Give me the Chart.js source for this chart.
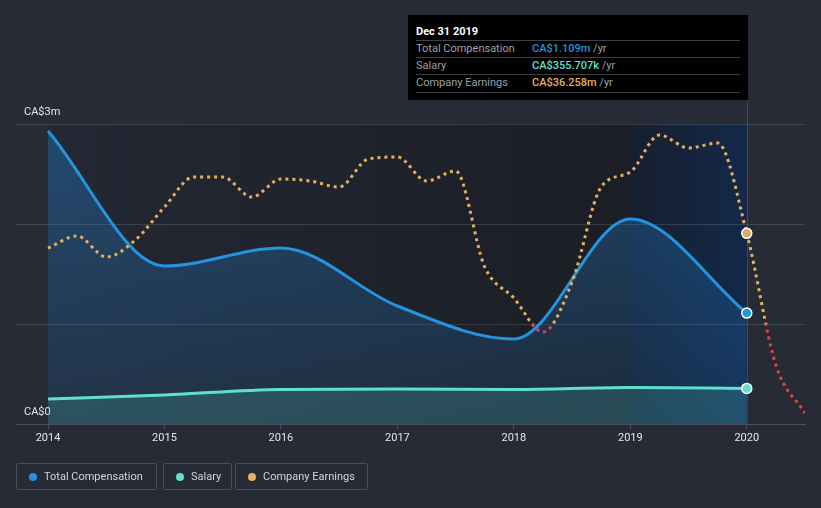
<!DOCTYPE html>
<html>
<head>
<meta charset="utf-8">
<script src="https://cdn.jsdelivr.net/npm/chart.js@4"></script>
<style>
  html, body { margin: 0; padding: 0; background: #262b36; }
  body { width: 821px; height: 508px; position: relative; overflow: hidden; font-family: Roboto, "Noto Sans", sans-serif; }
  #wrap { position: absolute; left: 0; top: 0; width: 821px; height: 508px; }
  .tip { position: absolute; left: 408px; top: 15px; width: 340px; height: 85px; background: #000; color: #fff; font-size: 11px; }
  .tip .ttl { position: absolute; left: 8px; top: 10px; font-weight: bold; }
  .tip .row { position: absolute; left: 8px; width: 324px; height: 17px; border-top: 1px solid #3c3f44; line-height: 16px; }
  .tip .row.last { border-bottom: 1px solid #3c3f44; }
  .tip .lab { position: absolute; left: 0; color: #9ba0a6; }
  .tip .val { position: absolute; left: 116px; font-weight: 500; }
  .tip .unit { color: #9ba0a6; font-weight: normal; }
  .legend { position: absolute; top: 463px; height: 27px; border: 1px solid #4a505b; border-radius: 2px; box-sizing: border-box; color: #d2d5da; font-size: 11px; line-height: 25px; }
  .legend i { position: absolute; left: 12px; top: 9px; width: 8px; height: 8px; border-radius: 50%; }
  .legend span { position: absolute; left: 27px; white-space: nowrap; }
</style>
</head>
<body>
<div id="wrap"><canvas id="compChart"></canvas></div>

<div class="tip">
  <div class="ttl">Dec 31 2019</div>
  <div class="row" style="top:25px"><span class="lab">Total Compensation</span><span class="val" style="color:#2394df">CA$1.109m <span class="unit">/yr</span></span></div>
  <div class="row" style="top:42px"><span class="lab">Salary</span><span class="val" style="color:#5fe0cd">CA$355.707k <span class="unit">/yr</span></span></div>
  <div class="row last" style="top:59px"><span class="lab">Company Earnings</span><span class="val" style="color:#e8b05c">CA$36.258m <span class="unit">/yr</span></span></div>
</div>

<div class="legend" style="left:16px;width:141px"><i style="background:#2394df"></i><span>Total Compensation</span></div>
<div class="legend" style="left:163px;width:69px"><i style="background:#5fe0cd"></i><span>Salary</span></div>
<div class="legend" style="left:235px;width:133px"><i style="background:#e8b05c"></i><span>Company Earnings</span></div>

<script>
// data
const compYears = [2014, 2015, 2016, 2017, 2018, 2019, 2020];
const totalComp = [2.93, 1.58, 1.76, 1.18, 0.85, 2.05, 1.109];      // CA$ m
const salary = [0.25, 0.29, 0.345, 0.35, 0.345, 0.365, 0.356];      // CA$ m

const earnX = [2014, 2014.25, 2014.5, 2014.75, 2015, 2015.25, 2015.5, 2015.75,
               2016, 2016.25, 2016.5, 2016.75, 2017, 2017.25, 2017.5, 2017.75,
               2018, 2018.25, 2018.5, 2018.75, 2019, 2019.25, 2019.5, 2019.75,
               2020, 2020.25, 2020.5];
const earnings = [30.4, 35.2, 26.8, 33.6, 46.8, 58.8, 58.8, 50.8,
                  58.0, 57.2, 54.8, 66.0, 66.8, 57.2, 61.2, 22.8,
                  10.4, -3.2, 16.8, 54.8, 60.8, 75.6, 70.4, 72.4,
                  36.258, -16.4, -35.6];                               // CA$ m

const xTicks = [2014, 2015, 2016, 2017, 2018, 2019, 2020];
const yTickLabels = { 0: 'CA$0', 3: 'CA$3m' };

const BLUE = '#2394df';
const TEAL = '#5fe0cd';
const ORANGE = '#e8b05c';
const RED = '#e5433f';

function pts(xs, ys) {
    return xs.map((x, i) => ({ x: x, y: ys[i] }));
}

// only the 2020 point gets a marker
const lastPoint = (ctx) => (ctx.raw && ctx.raw.x === 2020 ? 5 : 0);

function vGradient(ctx, stops) {
    const area = ctx.chart.chartArea;
    if (!area) return stops[0];
    const g = ctx.chart.ctx.createLinearGradient(0, area.top, 0, area.bottom);
    g.addColorStop(0, stops[0]);
    g.addColorStop(1, stops[1]);
    return g;
}

// orange above zero earnings, red below
function earningsStroke(ctx) {
    const chart = ctx.chart;
    const area = chart.chartArea;
    if (!area) return ORANGE;
    const y0 = chart.scales.yE.getPixelForValue(0);
    let stop = (y0 - area.top) / (area.bottom - area.top);
    stop = Math.min(Math.max(stop, 0), 1);
    const g = chart.ctx.createLinearGradient(0, area.top, 0, area.bottom);
    g.addColorStop(0, ORANGE);
    g.addColorStop(stop, ORANGE);
    g.addColorStop(stop, RED);
    g.addColorStop(1, RED);
    return g;
}

// plot background, highlighted year band and hover line
const backdrop = {
    id: 'backdrop',
    beforeDraw(chart) {
        const { ctx, chartArea } = chart;
        const xs = chart.scales.x;
        const x14 = xs.getPixelForValue(2014);
        const x19 = xs.getPixelForValue(2019);
        const x20 = xs.getPixelForValue(2020);
        const h = chartArea.bottom - chartArea.top;
        ctx.save();
        let g = ctx.createLinearGradient(x14, 0, x19, 0);
        g.addColorStop(0, '#232834');
        g.addColorStop(1, '#1b1e25');
        ctx.fillStyle = g;
        ctx.fillRect(x14, chartArea.top, x19 - x14, h);
        g = ctx.createLinearGradient(x19, 0, x20, 0);
        g.addColorStop(0, '#171f2e');
        g.addColorStop(1, '#13294a');
        ctx.fillStyle = g;
        ctx.fillRect(x19, chartArea.top, x20 - x19, h);
        ctx.strokeStyle = '#2a4a78';
        ctx.lineWidth = 1;
        ctx.beginPath();
        ctx.moveTo(Math.round(x20) + 0.5, 100);
        ctx.lineTo(Math.round(x20) + 0.5, chartArea.bottom);
        ctx.stroke();
        ctx.restore();
    }
};

const compChart = new Chart(document.getElementById('compChart'), {
    type: 'line',
    data: {
        datasets: [{
            label: 'Total Compensation',
            data: pts(compYears, totalComp),
            yAxisID: 'y',
            order: 2,
            borderColor: BLUE,
            borderWidth: 3,
            cubicInterpolationMode: 'monotone',
            fill: 'origin',
            backgroundColor: (ctx) => vGradient(ctx, ['rgba(36,130,210,0.38)', 'rgba(36,130,210,0.12)']),
            pointRadius: lastPoint,
            pointBackgroundColor: BLUE,
            pointBorderColor: '#ffffff',
            pointBorderWidth: 1.5
        }, {
            label: 'Salary',
            data: pts(compYears, salary),
            yAxisID: 'y',
            order: 1,
            borderColor: TEAL,
            borderWidth: 3,
            cubicInterpolationMode: 'monotone',
            fill: 'origin',
            backgroundColor: 'rgba(95,224,205,0.18)',
            pointRadius: lastPoint,
            pointBackgroundColor: TEAL,
            pointBorderColor: '#ffffff',
            pointBorderWidth: 1.5
        }, {
            label: 'Company Earnings',
            data: pts(earnX, earnings),
            yAxisID: 'yE',
            order: 0,
            borderColor: earningsStroke,
            borderWidth: 3,
            borderDash: [3, 4],
            cubicInterpolationMode: 'monotone',
            fill: false,
            pointRadius: lastPoint,
            pointBackgroundColor: '#d9aa66',
            pointBorderColor: '#ffffff',
            pointBorderWidth: 1.5
        }]
    },
    options: {
        responsive: true,
        maintainAspectRatio: false,
        animation: false,
        events: [],
        layout: { padding: { left: 16, right: 16, top: 124, bottom: 44 } },
        plugins: {
            legend: { display: false },
            tooltip: { enabled: false }
        },
        scales: {
            x: {
                type: 'linear',
                min: 2013.725,
                max: 2020.5,
                afterBuildTicks: (scale) => { scale.ticks = xTicks.map(v => ({ value: v })); },
                afterFit: (scale) => { scale.height = 40; },
                grid: { drawOnChartArea: false, drawTicks: true, tickLength: 5, color: '#4a4f5a' },
                border: { display: true, color: '#4a4f5a' },
                ticks: {
                    color: '#e6e6e6',
                    padding: 3,
                    font: { family: 'Roboto', size: 11 },
                    maxRotation: 0,
                    callback: (v) => String(v)
                }
            },
            y: {
                position: 'left',
                min: 0,
                max: 3,
                afterFit: (scale) => { scale.width = 0; },
                grid: { color: 'rgba(255,255,255,0.13)', drawTicks: false },
                border: { display: false },
                ticks: {
                    stepSize: 1,
                    mirror: true,
                    padding: 8,
                    labelOffset: -12,
                    color: '#e6e6e6',
                    font: { family: 'Roboto', size: 11 },
                    callback: (v) => yTickLabels[v] || ''
                }
            },
            yE: {
                display: false,
                min: -40,
                max: 80
            }
        }
    },
    plugins: [backdrop]
});
</script>
</body>
</html>
